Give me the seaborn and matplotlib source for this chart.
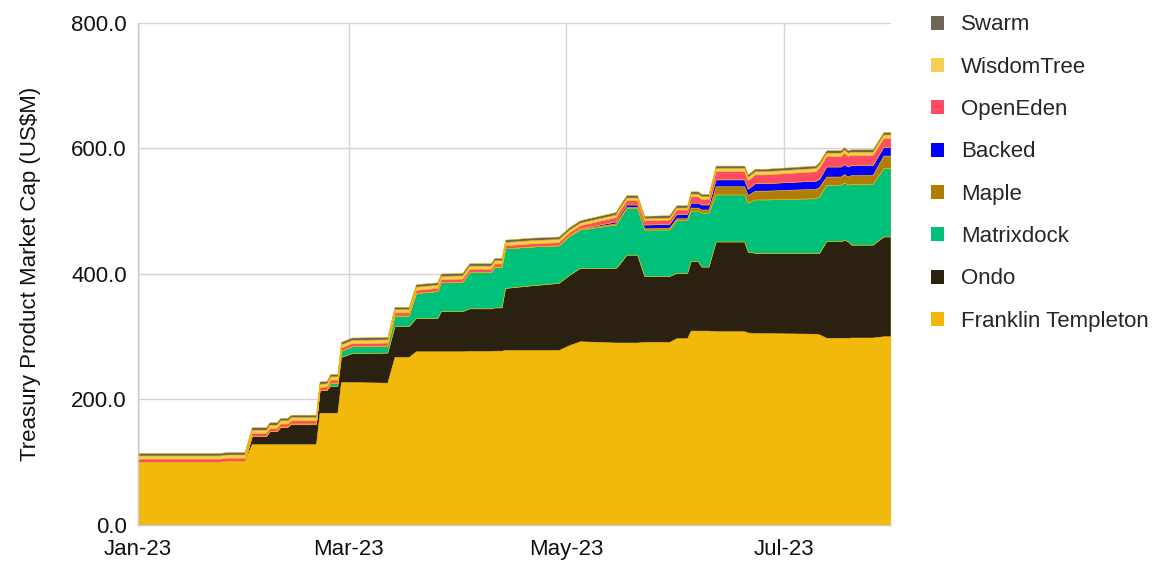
import pandas as pd
import matplotlib
matplotlib.use('Agg')
import matplotlib.pyplot as plt
import matplotlib.dates as mdates
from matplotlib.patches import Patch
from matplotlib.ticker import FormatStrFormatter
import seaborn as sns

# ==============================
# DATA (US$M), days counted from 2023-01-01
# ==============================

dias = [0, 23, 25, 30, 32, 36, 37, 39, 40, 42, 43, 50, 51, 53, 54, 56, 57, 60, 70, 72,
        76, 78, 84, 85, 91, 93, 99, 100, 102, 103, 110, 118, 121, 124, 134, 135, 137, 140, 142, 149,
        151, 154, 155, 157, 158, 160, 162, 170, 171, 173, 176, 190, 191, 193, 197, 198, 199, 200, 206, 209,
        211]

franklin = [100, 100, 101.5, 101.5, 128, 128, 128, 128, 128, 128, 128, 128, 178, 178, 178, 178, 227, 227, 226, 267,
            267, 276, 276, 276, 276, 276.5, 276.5, 277, 277, 278, 278, 278, 286, 292, 290, 290, 290, 290, 291, 291,
            297, 297, 309, 309, 309, 309, 308, 308, 306, 305, 305, 304, 303, 297.5, 297.5, 297.5, 297.5, 298, 298, 300,
            300]
ondo = [0, 0, 0, 0, 13, 13, 21, 21, 28, 28, 33, 33, 36, 37, 43, 43, 40, 46, 48, 49,
        49, 53, 53, 64, 64, 68, 68, 69, 69, 99, 103, 107, 112, 117, 119, 125, 140, 140, 105, 105,
        104, 104, 111, 111, 102, 102, 143, 143, 129, 128, 128, 129, 130, 154, 154, 156, 154, 148, 148, 159,
        159]
matrixdock = [0, 0, 0, 0, 0, 0, 0, 0, 0, 0, 0, 0, 0, 0, 5, 5, 10, 11, 11, 17,
              17, 40, 43, 46, 47, 58, 58, 65, 65, 63, 62, 60, 62, 61, 69, 72, 74, 74, 74, 74,
              84, 84, 80, 80, 86, 86, 75, 75, 78, 85, 85, 87, 90, 90, 90, 92, 90, 97, 97, 109,
              109]
maple = [0, 0, 0, 0, 0, 0, 0, 0, 0, 0, 0, 0, 0, 0, 0, 0, 0, 0, 0, 0,
         0, 0, 0, 0, 0, 0, 0, 0, 0, 0, 0, 0, 0.5, 1, 2, 2, 2, 2, 2, 3,
         3, 3, 5, 5, 5, 5, 13, 13, 12, 14, 14, 15, 15, 13, 13, 13, 13, 14, 14, 20,
         20]
backed = [0, 0, 0, 0, 0, 0, 0, 0, 0, 0, 0, 0, 0, 0, 0, 0, 0, 0, 0, 0,
          0, 0, 0, 0, 0, 0, 0, 0, 0, 0, 0, 0, 0.5, 1, 3, 4, 4, 4, 6, 6,
          7, 7, 8, 8, 8, 8, 11, 11, 10, 12, 12, 13, 13, 16, 16, 16, 16, 16, 16, 14,
          14]
openeden = [5, 5, 5, 5, 5, 5, 5, 5, 5, 5, 5, 5, 5, 5, 5, 5, 5, 5, 5, 5,
            5, 5, 5, 5, 5, 5, 5, 5, 5, 5, 5, 5, 5, 5, 7, 7, 7, 7, 7, 7,
            7, 7, 10, 10, 9, 9, 13, 13, 14, 14, 14, 15, 18, 17, 17, 18, 17, 16, 16, 14,
            14]
wisdomtree = [5, 5, 5, 5, 5, 5, 5, 5, 5, 5, 5, 5, 5, 5, 5, 5, 5, 5, 5, 5,
              5, 5, 5, 5, 5, 5, 5, 5, 5, 5, 5, 5, 4, 4, 4, 4, 4, 4, 3, 3,
              3, 3, 4, 4, 4, 4, 5, 5, 5, 5, 5, 5, 5, 5, 5, 5, 5, 5, 5, 5.5,
              5.5]
swarm = [4] * len(dias)

series = ['Franklin Templeton', 'Ondo', 'Matrixdock', 'Maple', 'Backed',
          'OpenEden', 'WisdomTree', 'Swarm']
cores = ['#F0B90B', '#2A2111', '#00C07A', '#B07D08', '#0000FF',
         '#FF4B63', '#F5CE55', '#6E6556']

df = pd.DataFrame({
    'data': pd.Timestamp('2023-01-01') + pd.to_timedelta(dias, unit='D'),
    'Franklin Templeton': franklin,
    'Ondo': ondo,
    'Matrixdock': matrixdock,
    'Maple': maple,
    'Backed': backed,
    'OpenEden': openeden,
    'WisdomTree': wisdomtree,
    'Swarm': swarm,
})

# ==============================
# GRÁFICO
# ==============================

sns.set_theme(style='whitegrid')
plt.rcParams['font.family'] = ['Liberation Sans', 'DejaVu Sans']

fig = plt.figure(figsize=(11.53, 5.61), dpi=100)
ax = fig.add_axes([0.1197, 0.0642, 0.7728 - 0.1197, 0.959 - 0.0642])

ax.stackplot(df['data'], [df[s] for s in series], colors=cores,
             edgecolor=cores, linewidth=0.4)

ax.set_xlim(pd.Timestamp('2023-01-01'), pd.Timestamp('2023-07-31'))
ax.set_ylim(0, 800)
ax.set_yticks([0, 200, 400, 600, 800])
ax.yaxis.set_major_formatter(FormatStrFormatter('%.1f'))
ax.set_xticks(pd.to_datetime(['2023-01-01', '2023-03-01', '2023-05-01', '2023-07-01']))
ax.xaxis.set_major_formatter(mdates.DateFormatter('%b-%y'))

ax.grid(True, color='#d4d4d4', linewidth=1)
ax.set_axisbelow(True)
ax.set_facecolor('white')
for lado in ['top', 'right']:
    ax.spines[lado].set_visible(False)
for lado in ['left', 'bottom']:
    ax.spines[lado].set_color('#c8c8c8')
    ax.spines[lado].set_linewidth(1)

ax.tick_params(axis='both', length=0, labelsize=16, colors='#111111')
ax.tick_params(axis='y', pad=8)
ax.tick_params(axis='x', pad=10)
ax.set_ylabel('Treasury Product Market Cap (US$M)', fontsize=16, color='#111111', labelpad=22)

handles = [Patch(facecolor=c, edgecolor='none') for c in cores][::-1]
fig.legend(handles, series[::-1], loc='upper left', bbox_to_anchor=(0.795, 1.0),
           frameon=False, fontsize=16, handlelength=0.6, handleheight=0.6,
           labelspacing=0.96, handletextpad=0.75, borderaxespad=0.25)

fig.savefig('out.png', dpi=100)
